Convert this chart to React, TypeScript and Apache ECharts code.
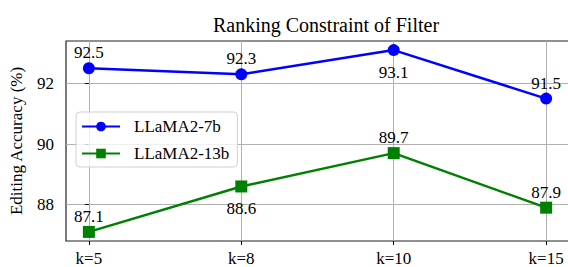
import React, { useEffect, useRef } from "react";
import * as echarts from "echarts";

const categories = ["k=5", "k=8", "k=10", "k=15"];
const llama7b = [92.5, 92.3, 93.1, 91.5];
const llama13b = [87.1, 88.6, 89.7, 87.9];
const yTicks = [88, 90, 92];
const labelPos7b = ["top", "top", "bottom", "top"];
const labelPos13b = ["top", "bottom", "top", "top"];

const FONT = "Liberation Serif";

export default function App() {
  const ref = useRef<HTMLDivElement>(null);
  useEffect(() => {
    if (!ref.current) return;
    const chart = echarts.init(ref.current, null, { renderer: "svg" });
    const idx = categories.map((_, i) => i);
    const mk = (vals: number[], pos: string[]) =>
      vals.map((v, i) => ({
        value: [i, v],
        label: { position: pos[i], distance: pos[i] === "bottom" ? 8 : 1 },
      }));
    const seriesLabel = {
      show: true,
      formatter: (p: any) => p.value[1].toFixed(1),
      fontFamily: FONT,
      fontSize: 17,
      color: "#000",
    };
    chart.setOption({
      animation: false,
      textStyle: { fontFamily: FONT },
      title: {
        text: "Ranking Constraint of Filter",
        left: 321,
        textAlign: "center",
        top: 10,
        textStyle: { fontFamily: FONT, fontSize: 20, fontWeight: "normal", color: "#000" },
      },
      grid: {
        left: 66,
        top: 41,
        bottom: 26,
        right: 3,
        show: true,
        borderColor: "#222",
        borderWidth: 1.2,
        backgroundColor: "rgba(0,0,0,0)",
      },
      legend: {
        orient: "vertical",
        left: 76,
        top: 112,
        itemWidth: 38,
        itemHeight: 12,
        itemGap: 10,
        padding: [6, 8, 5, 5],
        backgroundColor: "rgba(255,255,255,0.8)",
        borderColor: "#d0d0d0",
        borderWidth: 1,
        borderRadius: 4,
        textStyle: { fontFamily: FONT, fontSize: 17, color: "#000", padding: [0, 0, 0, 9] },
        data: ["LLaMA2-7b", "LLaMA2-13b"],
      },
      xAxis: {
        type: "value",
        position: "bottom",
        min: -0.15,
        max: 3.15,
        axisLine: { show: false },
        axisTick: { show: true, customValues: idx, length: 4, lineStyle: { color: "#000" } },
        axisLabel: {
          customValues: idx,
          formatter: (v: number) => categories[Math.round(v)] ?? "",
          fontFamily: FONT,
          fontSize: 17,
          color: "#000",
          margin: 9,
        },
        splitLine: { show: true, customValues: idx, lineStyle: { color: "#b0b0b0", width: 1 } },
      },
      yAxis: {
        type: "value",
        position: "left",
        min: 86.8,
        max: 93.4,
        name: "Editing Accuracy (%)",
        nameLocation: "middle",
        nameGap: 41,
        nameTextStyle: { fontFamily: FONT, fontSize: 17, color: "#000" },
        axisLine: { show: false },
        axisTick: { show: true, customValues: yTicks, length: 4, lineStyle: { color: "#000" } },
        axisLabel: {
          customValues: yTicks,
          fontFamily: FONT,
          fontSize: 17,
          color: "#000",
          margin: 12,
        },
        splitLine: { show: true, customValues: yTicks, lineStyle: { color: "#b0b0b0", width: 1 } },
      },
      series: [
        {
          name: "LLaMA2-7b",
          type: "line",
          data: mk(llama7b, labelPos7b),
          symbol: "circle",
          symbolSize: 12,
          itemStyle: { color: "#0000ff" },
          lineStyle: { color: "#0000ff", width: 2.5 },
          label: seriesLabel,
          z: 3,
        },
        {
          name: "LLaMA2-13b",
          type: "line",
          data: mk(llama13b, labelPos13b),
          symbol: "rect",
          symbolSize: 12,
          itemStyle: { color: "#008000" },
          lineStyle: { color: "#008000", width: 2.5 },
          label: seriesLabel,
          z: 3,
        },
      ],
    });
    return () => chart.dispose();
  }, []);
  return (
    <div
      style={{ position: "absolute", left: 0, top: 0, width: 568, height: 267, overflow: "hidden" }}
    >
      <div ref={ref} style={{ width: 572, height: 267 }} />
    </div>
  );
}
